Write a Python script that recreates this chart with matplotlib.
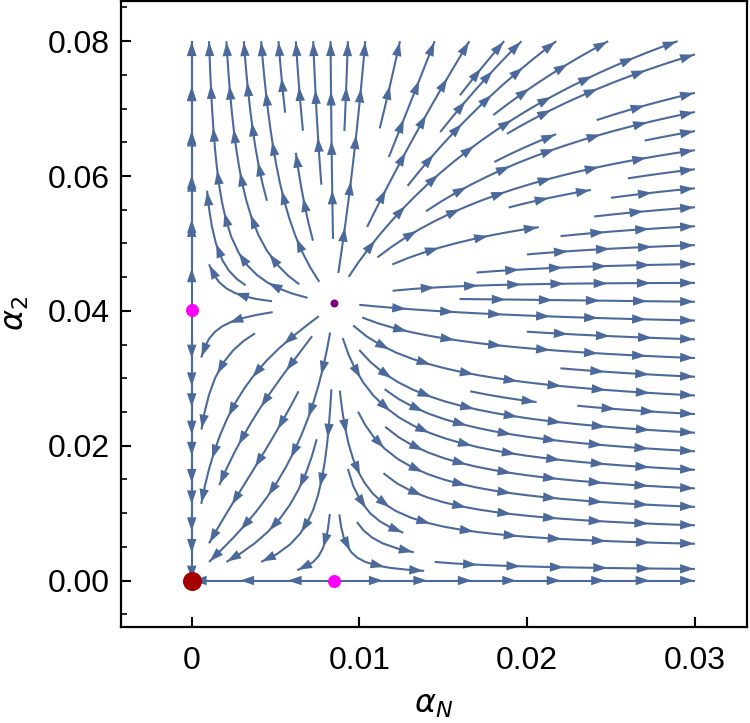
import numpy as np
import matplotlib
matplotlib.use("Agg")
import matplotlib.pyplot as plt
from matplotlib.patches import FancyArrowPatch
from matplotlib.ticker import FixedLocator

plt.rcParams['font.family'] = ['Liberation Sans', 'DejaVu Sans']
plt.rcParams['mathtext.fontset'] = 'dejavusans'

# ---- data ----
# fixed points of the flow (alpha_N, alpha_2)
fp_x = [0.0, 0.0, 0.0085, 0.0085]
fp_y = [0.0, 0.0402, 0.0, 0.0412]
fp_colors = ['#A50000', '#FF00FF', '#FF00FF', '#7F007F']
fp_sizes = [19, 13, 13, 8]

# flow coefficients (beta functions ~ A x (x - xN*),  B y (y - y2*(x)))
coef_A = 1.0
coef_B = 0.18

# extra seeds on the invariant axis alpha_N = 0
axis_seed_x = [0.0, 0.0, 0.0]
axis_seed_y = [0.0445, 0.0385, 0.028]

x_ticks = [0, 0.01, 0.02, 0.03]
x_ticklabels = ['0', '0.01', '0.02', '0.03']
y_ticks = [0.0, 0.02, 0.04, 0.06, 0.08]
y_ticklabels = ['0.00', '0.02', '0.04', '0.06', '0.08']

stream_color = '#4B6A9B'

# ---- figure ----
fig = plt.figure(figsize=(7.5, 7.23), dpi=100)
ax = fig.add_axes([0.161, 0.133, 0.835, 0.866])
ax.set_xlim(-0.00423, 0.0331)
ax.set_ylim(-0.00687, 0.0860)

xg = np.linspace(0, 0.03, 121)
yg = np.linspace(0, 0.08, 161)
X, Y = np.meshgrid(xg, yg)
xs = fp_x[2]
y0 = fp_y[1]
y1 = fp_y[3]
U = coef_A * X * (X - xs)
V = coef_B * Y * (Y - (y0 + (y1 - y0) * X / xs))


def get_lines(sp):
    segs = sp.lines.get_segments()
    out = []
    cur = None
    for s in segs:
        s = np.asarray(s)
        if len(s) > 2:
            if cur is not None:
                out.append(np.array(cur))
                cur = None
            out.append(s)
            continue
        if cur is not None and np.array_equal(cur[-1], s[0]):
            cur.append(s[1])
        else:
            if cur is not None:
                out.append(np.array(cur))
            cur = [s[0], s[1]]
    if cur is not None:
        out.append(np.array(cur))
    sp.lines.remove()
    for p in list(ax.patches):
        p.remove()
    return out


common = dict(color=stream_color, linewidth=1.4, arrowstyle='-', broken_streamlines=True)
lines = get_lines(ax.streamplot(X, Y, U, V, density=1.0, **common))
lines += get_lines(ax.streamplot(X, Y, U, V,
                                 start_points=np.column_stack([axis_seed_x, axis_seed_y]),
                                 integration_direction='forward', **common))

trans = ax.transData
inv = trans.inverted()
rep_d = trans.transform((fp_x[3], fp_y[3]))
spacing = 46.0
head_len = 13.0
for ln in lines:
    d = trans.transform(ln)
    keep = np.hypot(d[:, 0] - rep_d[0], d[:, 1] - rep_d[1]) > 20
    if keep.sum() < 3:
        continue
    d = d[keep]
    ln = ln[keep]
    seg_len = np.hypot(np.diff(d[:, 0]), np.diff(d[:, 1]))
    cum = np.concatenate([[0], np.cumsum(seg_len)])
    total = cum[-1]
    if total < 28:
        continue
    ax.plot(ln[:, 0], ln[:, 1], color=stream_color, lw=1.5, solid_capstyle='butt',
            zorder=2)
    n = max(1, int(round(total / spacing)))
    step = total / n
    for k in range(n):
        s_tip = (k + 1) * step - 1.0
        s_tail = s_tip - head_len
        if s_tail < 0:
            continue
        tip = np.array([np.interp(s_tip, cum, d[:, 0]), np.interp(s_tip, cum, d[:, 1])])
        tail = np.array([np.interp(s_tail, cum, d[:, 0]), np.interp(s_tail, cum, d[:, 1])])
        tip_d, tail_d = inv.transform(tip), inv.transform(tail)
        arr = FancyArrowPatch(tail_d, tip_d, arrowstyle='-|>,head_length=1.0,head_width=0.34',
                              mutation_scale=10, color=stream_color, lw=0,
                              shrinkA=0, shrinkB=0, zorder=3)
        ax.add_patch(arr)

for x, y, c, s in zip(fp_x, fp_y, fp_colors, fp_sizes):
    ax.plot([x], [y], 'o', color=c, markersize=s * 0.72, markeredgewidth=0, zorder=5)

ax.set_xlim(-0.00423, 0.0331)
ax.set_ylim(-0.00687, 0.0860)
ax.set_xticks(x_ticks)
ax.set_xticklabels(x_ticklabels)
ax.set_yticks(y_ticks)
ax.set_yticklabels(y_ticklabels)
ax.yaxis.set_minor_locator(FixedLocator(np.arange(-0.005, 0.0851, 0.005)))
ax.tick_params(axis='both', which='major', direction='in', length=7, width=1.5,
               labelsize=23, colors='black', pad=8)
ax.tick_params(axis='y', which='minor', direction='in', length=4, width=1.2)
ax.tick_params(axis='x', which='major', pad=14)
for sp_ in ax.spines.values():
    sp_.set_linewidth(1.6)

ax.set_xlabel(r'$\alpha_N$', fontsize=23, labelpad=10)
ax.set_ylabel(r'$\alpha_2$', fontsize=23, labelpad=12)

fig.savefig('out.png', dpi=100)
